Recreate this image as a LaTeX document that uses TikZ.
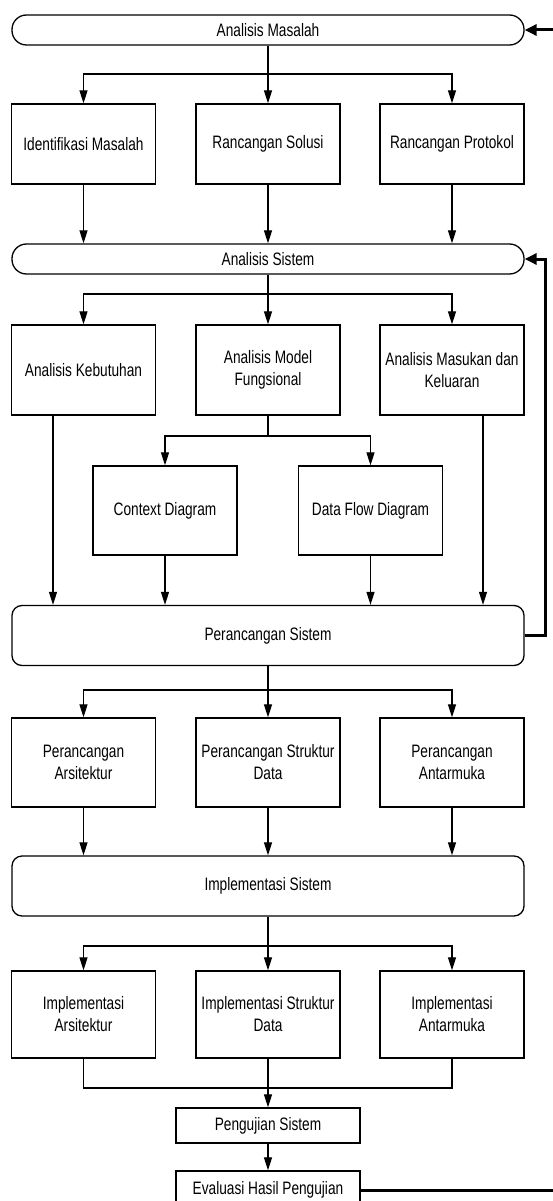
\documentclass[tikz,border=0pt]{standalone}
\usepackage{fontspec}
\setmainfont[FakeStretch=0.76]{Liberation Sans}
\usetikzlibrary{arrows.meta,calc}
\begin{document}
\begin{tikzpicture}[x=1pt,y=-1pt,
  txt/.style={font=\fontsize{18}{22}\selectfont,align=center,inner sep=0pt},
  box/.style={txt,draw,line width=1.3pt,minimum width=144pt,minimum height=89pt},
  stad/.style={txt,draw,line width=1.3pt,minimum width=512pt,minimum height=30pt,rounded corners=14.5pt},
  rbig/.style={txt,draw,line width=1.3pt,minimum width=512pt,minimum height=60pt,rounded corners=10pt},
  small/.style={txt,draw,line width=1.3pt,minimum width=184pt},
  arr/.style={line width=1.2pt,-{Triangle[length=13pt,width=8pt]}},
  ln/.style={line width=1.2pt},
  fb/.style={line width=3pt,-{Triangle[length=12pt,width=11pt]}}
]
\fill[white] (0,0) rectangle (553,1201);
\clip (0,0) rectangle (553,1201);

% Level 1
\node[stad] (am) at (268,30) {Analisis Masalah};
\node[box,minimum height=80pt] (r1a) at (83.5,144) {Identifikasi Masalah};
\node[box,minimum height=80pt] (r1b) at (268,144) {Rancangan Solusi};
\node[box,minimum height=80pt] (r1c) at (452,144) {Rancangan Protokol};
\coordinate (j1) at (268,74);
\draw[arr] (am.south) -- (r1b.north);
\draw[arr] (j1) -| (r1a.north);
\draw[arr] (j1) -| (r1c.north);

% Level 2
\node[stad] (as) at (268,259) {Analisis Sistem};
\draw[arr] (r1a.south) -- (r1a.south |- as.north);
\draw[arr] (r1b.south) -- (as.north);
\draw[arr] (r1c.south) -- (r1c.south |- as.north);

\node[box,minimum height=90pt] (r2a) at (83.5,370) {Analisis Kebutuhan};
\node[box,minimum height=90pt] (r2b) at (268,370) {Analisis Model\\Fungsional};
\node[box,minimum height=90pt] (r2c) at (452,370) {Analisis Masukan dan\\Keluaran};
\coordinate (j2) at (268,294);
\draw[arr] (as.south) -- (r2b.north);
\draw[arr] (j2) -| (r2a.north);
\draw[arr] (j2) -| (r2c.north);

\node[box] (cd) at (165,510.5) {Context Diagram};
\node[box] (dfd) at (370.5,510.5) {Data Flow Diagram};
\coordinate (j3) at (268,436);
\draw[ln] (r2b.south) -- (j3);
\draw[arr] (j3) -| (cd.north);
\draw[arr] (j3) -| (dfd.north);

% Level 3
\node[rbig] (ps) at (268,635.5) {Perancangan Sistem};
\draw[arr] ([xshift=-30.5pt]r2a.south) -- ([xshift=-30.5pt]r2a.south |- ps.north);
\draw[arr] ([xshift=31pt]r2c.south) -- ([xshift=31pt]r2c.south |- ps.north);
\draw[arr] (cd.south) -- (cd.south |- ps.north);
\draw[arr] (dfd.south) -- (dfd.south |- ps.north);
\coordinate (fb1) at (545,635.5);
\draw[fb] (ps.east) -- (fb1) |- (as.east);

\node[box] (r3a) at (83.5,762.5) {Perancangan\\Arsitektur};
\node[box] (r3b) at (268,762.5) {Perancangan Struktur\\Data};
\node[box] (r3c) at (452,762.5) {Perancangan\\Antarmuka};
\coordinate (j4) at (268,690);
\draw[arr] (ps.south) -- (r3b.north);
\draw[arr] (j4) -| (r3a.north);
\draw[arr] (j4) -| (r3c.north);

% Level 4
\node[rbig] (is) at (268,886) {Implementasi Sistem};
\draw[arr] (r3a.south) -- (r3a.south |- is.north);
\draw[arr] (r3b.south) -- (is.north);
\draw[arr] (r3c.south) -- (r3c.south |- is.north);

\node[box,minimum height=87pt] (r4a) at (83.5,1014.5) {Implementasi\\Arsitektur};
\node[box,minimum height=87pt] (r4b) at (268,1014.5) {Implementasi Struktur\\Data};
\node[box,minimum height=87pt] (r4c) at (452,1014.5) {Implementasi\\Antarmuka};
\coordinate (j5) at (268,946);
\draw[arr] (is.south) -- (r4b.north);
\draw[arr] (j5) -| (r4a.north);
\draw[arr] (j5) -| (r4c.north);

% Testing
\node[small,minimum height=35pt] (pu) at (268,1125.5) {Pengujian Sistem};
\node[small,minimum height=38pt] (ev) at (268,1190) {Evaluasi Hasil Pengujian};
\coordinate (m) at (268,1088);
\draw[ln] (r4a.south) |- (m);
\draw[ln] (r4c.south) |- (m);
\draw[arr] (r4b.south) -- (pu.north);
\draw[arr] (pu.south) -- (ev.north);
\coordinate (fb2) at (570,1190);
\draw[fb] (ev.east) -- (fb2) |- (am.east);
\end{tikzpicture}
\end{document}
